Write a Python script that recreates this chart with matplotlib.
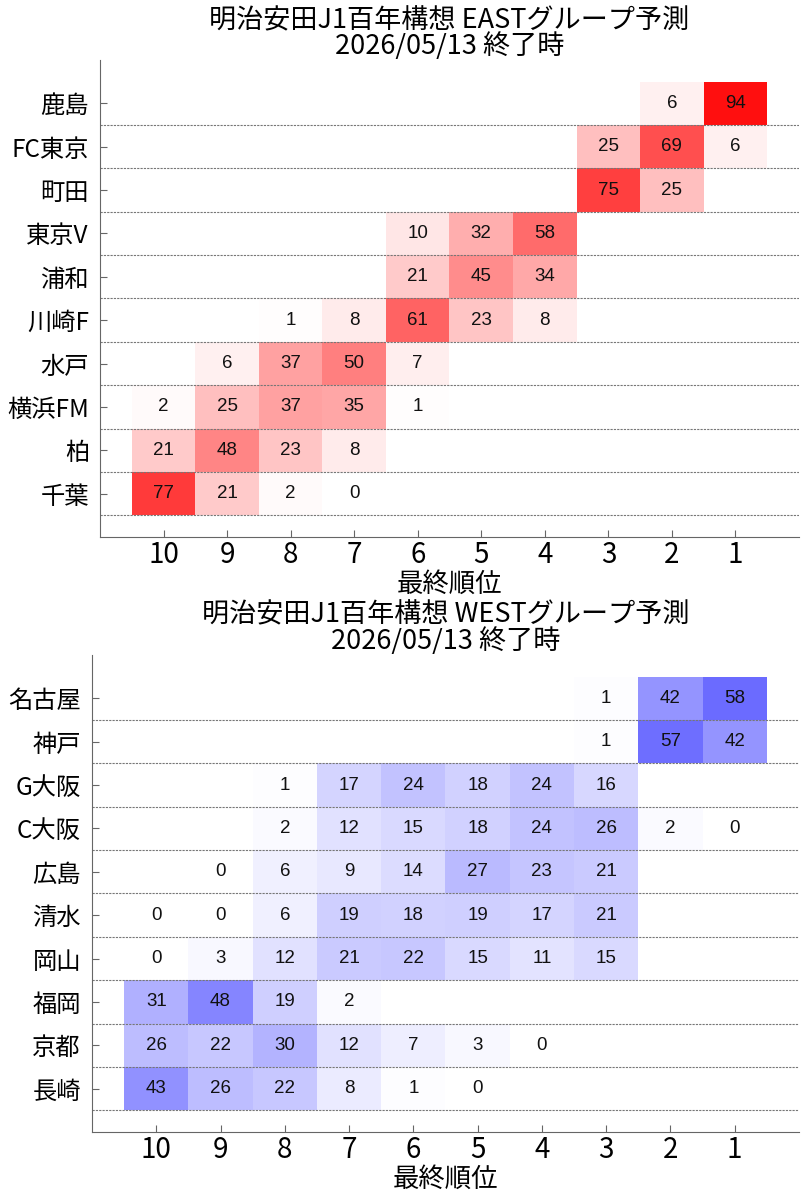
import numpy as np
import matplotlib
matplotlib.use("Agg")
import matplotlib.pyplot as plt
from matplotlib.colors import LinearSegmentedColormap

plt.rcParams['font.family'] = ['Noto Sans CJK JP', 'DejaVu Sans']

nan = np.nan

# columns are final positions 10 .. 1
positions = [10, 9, 8, 7, 6, 5, 4, 3, 2, 1]

east_teams = ["鹿島", "FC東京", "町田", "東京V", "浦和", "川崎F", "水戸", "横浜FM", "柏", "千葉"]
east_values = [
    [nan, nan, nan, nan, nan, nan, nan, nan, 6, 94],
    [nan, nan, nan, nan, nan, nan, nan, 25, 69, 6],
    [nan, nan, nan, nan, nan, nan, nan, 75, 25, nan],
    [nan, nan, nan, nan, 10, 32, 58, nan, nan, nan],
    [nan, nan, nan, nan, 21, 45, 34, nan, nan, nan],
    [nan, nan, 1, 8, 61, 23, 8, nan, nan, nan],
    [nan, 6, 37, 50, 7, nan, nan, nan, nan, nan],
    [2, 25, 37, 35, 1, nan, nan, nan, nan, nan],
    [21, 48, 23, 8, nan, nan, nan, nan, nan, nan],
    [77, 21, 2, 0, nan, nan, nan, nan, nan, nan],
]

west_teams = ["名古屋", "神戸", "G大阪", "C大阪", "広島", "清水", "岡山", "福岡", "京都", "長崎"]
west_values = [
    [nan, nan, nan, nan, nan, nan, nan, 1, 42, 58],
    [nan, nan, nan, nan, nan, nan, nan, 1, 57, 42],
    [nan, nan, 1, 17, 24, 18, 24, 16, nan, nan],
    [nan, nan, 2, 12, 15, 18, 24, 26, 2, 0],
    [nan, 0, 6, 9, 14, 27, 23, 21, nan, nan],
    [0, 0, 6, 19, 18, 19, 17, 21, nan, nan],
    [0, 3, 12, 21, 22, 15, 11, 15, nan, nan],
    [31, 48, 19, 2, nan, nan, nan, nan, nan, nan],
    [26, 22, 30, 12, 7, 3, 0, nan, nan, nan],
    [43, 26, 22, 8, 1, 0, nan, nan, nan, nan],
]

east_title = "明治安田J1百年構想 EASTグループ予測\n2026/05/13 終了時"
west_title = "明治安田J1百年構想 WESTグループ予測\n2026/05/13 終了時"

reds = LinearSegmentedColormap.from_list("w_r", ["#ffffff", "#ff0000"])
blues = LinearSegmentedColormap.from_list("w_b", ["#ffffff", "#0000ff"])


def draw_group(ax, teams, values, cmap, title):
    vals = np.array(values, dtype=float)
    data = np.ma.masked_invalid(vals)
    xe = np.arange(10.5, 0, -1)  # cell edges 10.5 .. 0.5
    ye = np.arange(-0.5, len(teams), 1.0)
    ax.pcolormesh(xe, ye, data, cmap=cmap, vmin=0, vmax=100, zorder=1)

    for i in range(len(teams)):
        for j, p in enumerate(positions):
            v = vals[i, j]
            if not np.isnan(v):
                ax.text(p, i, "%d" % v, ha="center", va="center",
                        fontsize=13.5, family=["Liberation Sans", "DejaVu Sans"],
                        color="#111111", zorder=3)

    for k in range(len(teams)):
        ax.axhline(k + 0.5, color="#777777", lw=0.8, ls=(0, (2, 1)), zorder=2)

    ax.set_xlim(11, 0)
    ax.set_ylim(10, -1)
    ax.set_xticks(positions)
    ax.set_xticklabels([str(p) for p in positions], fontsize=20)
    ax.set_yticks(range(len(teams)))
    ax.set_yticklabels(teams, fontsize=17.5)
    ax.set_xlabel("最終順位", fontsize=19, labelpad=1)
    ax.set_title(title, fontsize=19.5, linespacing=0.92, pad=0)
    for s in ["top", "right"]:
        ax.spines[s].set_visible(False)
    for s in ["left", "bottom"]:
        ax.spines[s].set_color("#666666")
    ax.tick_params(direction="in", color="#666666", length=5)
    ax.tick_params(axis="x", pad=2)
    ax.tick_params(axis="y", pad=8)


fig = plt.figure(figsize=(8.07, 12), dpi=100)
ax1 = fig.add_axes([0.124, 0.5525, 0.866, 0.3975])
ax2 = fig.add_axes([0.114, 0.0567, 0.876, 0.3975])

draw_group(ax1, east_teams, east_values, reds, east_title)
draw_group(ax2, west_teams, west_values, blues, west_title)

fig.savefig("out.png", dpi=100)
